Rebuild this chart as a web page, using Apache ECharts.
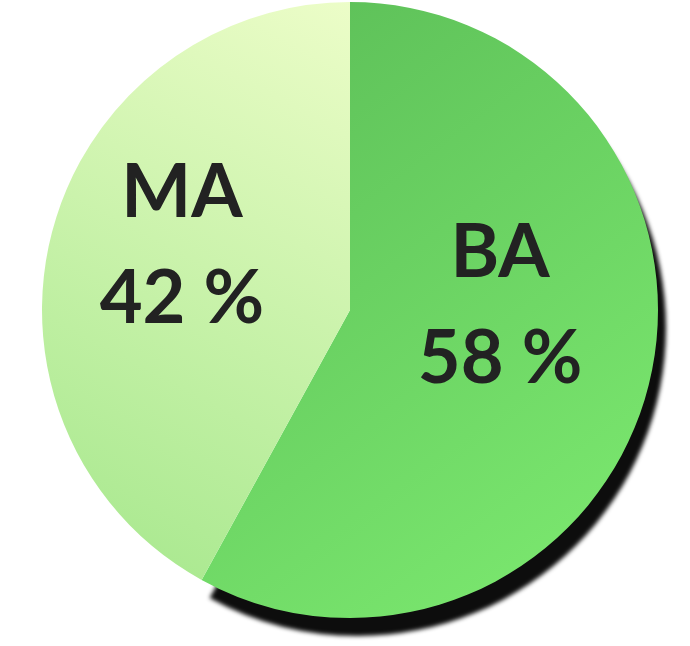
<!DOCTYPE html>
<html>
<head>
<meta charset="utf-8">
<script src="https://cdn.jsdelivr.net/npm/echarts@6/dist/echarts.min.js"></script>
<style>
  html, body { margin: 0; padding: 0; background: #fff; }
  #chart { width: 690px; height: 646px; }
</style>
</head>
<body>
<div id="chart"></div>
<script>
var degrees = ['BA', 'MA'];
var shares = [58, 42];

var chart = echarts.init(document.getElementById('chart'));

// slice looks, BA first so it runs clockwise from 12 o'clock
var sliceStyles = [
  {
    color: new echarts.graphic.LinearGradient(0, 0, 1, 1, [
      { offset: 0, color: '#5bbd57' },
      { offset: 1, color: '#7eec71' }
    ]),
    shadowColor: 'rgba(0,0,0,0.95)',
    shadowBlur: 4,
    shadowOffsetX: 8,
    shadowOffsetY: 18
  },
  {
    color: new echarts.graphic.LinearGradient(1, 0, 0, 1, [
      { offset: 0, color: '#ecfdc8' },
      { offset: 1, color: '#a4e78b' }
    ])
  }
];
var labelOffsets = [[-2, -43], [-16, -25]];

var option = {
  animation: false,
  series: [
    {
      type: 'pie',
      center: [350, 310],
      radius: [0, 308],
      startAngle: 90,
      clockwise: true,
      silent: true,
      label: {
        show: true,
        position: 'inside',
        formatter: function (p) { return p.name + '\n' + p.value + ' %'; },
        color: '#222',
        fontFamily: 'Lato',
        fontWeight: 'bold',
        fontSize: 74,
        lineHeight: 106
      },
      labelLine: { show: false },
      data: degrees.map(function (d, i) {
        return {
          name: d,
          value: shares[i],
          itemStyle: sliceStyles[i],
          label: { offset: labelOffsets[i] }
        };
      })
    }
  ]
};
chart.setOption(option, true);
</script>
</body>
</html>
